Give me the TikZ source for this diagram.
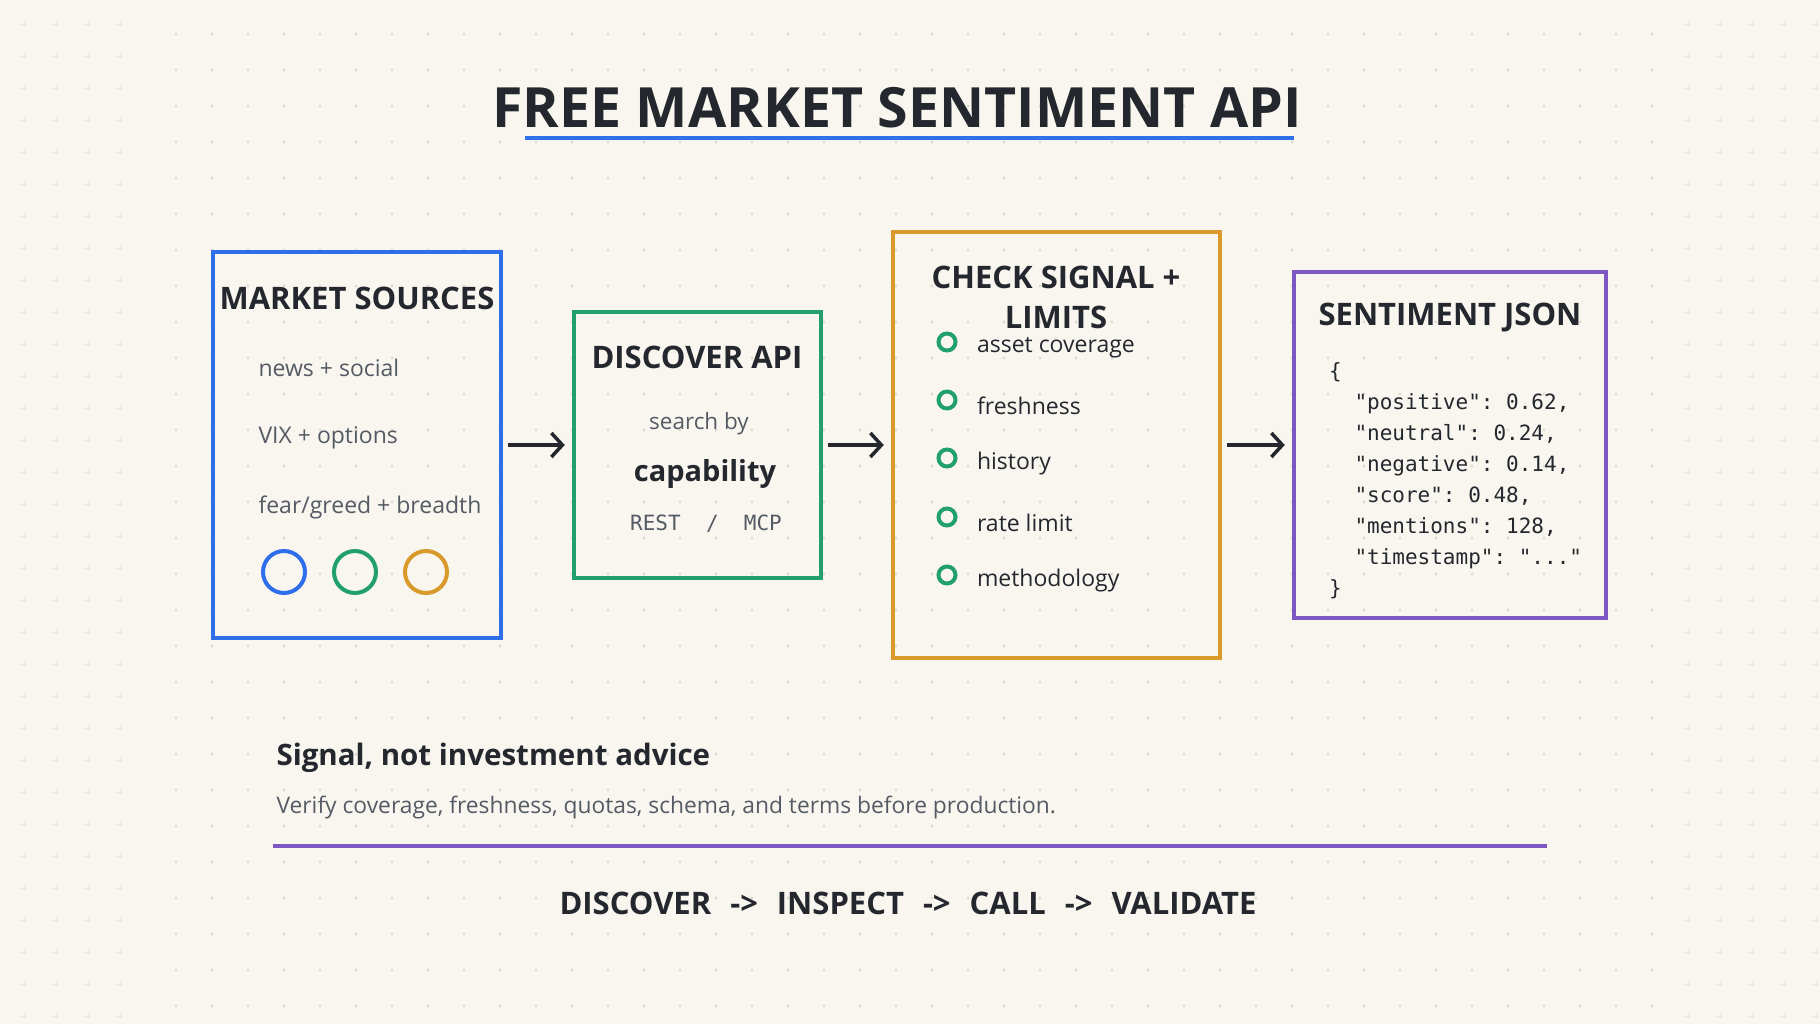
\documentclass[tikz,border=0pt]{standalone}
\usepackage{fontspec}
\IfFontExistsTF{Noto Sans Bold}{\setmainfont{Noto Sans}[BoldFont={Noto Sans Bold}]}{\IfFontExistsTF{Open Sans Bold}{\setmainfont{Open Sans}[BoldFont={Open Sans Bold}]}{\setmainfont{Fira Sans}}}
\setmonofont{DejaVu Sans Mono}
\usetikzlibrary{arrows.meta,positioning}
\definecolor{Paper}{HTML}{F8F6EF}
\definecolor{Ink}{HTML}{24282E}
\definecolor{Slate}{HTML}{555B64}
\definecolor{Blue}{HTML}{2F6FEB}
\definecolor{Green}{HTML}{22A06B}
\definecolor{Orange}{HTML}{D99A2B}
\definecolor{Purple}{HTML}{7E57C2}
\definecolor{Dot}{HTML}{DCD9D1}
\definecolor{Cross}{HTML}{EAE7DF}
\tikzset{panel/.style={draw=#1,line width=4.5pt,inner sep=0pt},head/.style={font=\fontsize{31}{40}\selectfont\bfseries,text=Ink,align=center},item/.style={anchor=west,font=\fontsize{23}{28}\selectfont,text=Slate},code/.style={anchor=north west,font=\fontsize{21}{31}\selectfont\ttfamily,text=Ink,align=left,inner sep=0pt},flow/.style={-{Straight Barb[length=11pt,width=24pt,line width=3.5pt]},line width=3.5pt,draw=Ink,shorten <=5pt,shorten >=7pt},ring/.style={circle,draw=#1,line width=4pt,inner sep=0pt},tick/.style={circle,draw=Green,line width=4pt,minimum size=17pt,inner sep=0pt}}

\begin{document}
\begin{tikzpicture}[x=1pt,y=-1pt]
      \useasboundingbox(0,0)rectangle(1820,1024);
      \fill[Paper](0,0)rectangle(1820,1024);
      % background grid
      \foreach \gx in {176,212,...,1652}{\foreach \gy in {34,70,...,1006}{\fill[Dot](\gx,\gy)circle(1.6pt);}}
      \foreach \gx in {24,56,88,120,1688,1720,1752,1784,1816}{\foreach \gy in {24,56,...,1016}{\draw[Cross,line width=.8pt](\gx-3,\gy)--(\gx+3,\gy)(\gx,\gy-3)--(\gx,\gy+3);}}
      % title
      \node[font=\fontsize{55.5}{60}\selectfont\bfseries,text=Ink](title)at(897,108){FREE MARKET SENTIMENT API};
      \draw[Blue,line width=4pt](525,138)--(1294,138);
      % panels
      \node[panel=Blue,minimum width=288pt,minimum height=386pt](src)at(357,445){};
      \node[panel=Green,minimum width=247pt,minimum height=266pt](disc)at(697.5,445){};
      \node[panel=Orange,minimum width=327pt,minimum height=426pt](check)at(1056.5,445){};
      \node[panel=Purple,minimum width=312pt,minimum height=346pt](json)at(1450,445){};
      \draw[flow](src)--(disc);\draw[flow](disc)--(check);\draw[flow](check)--(json);
      % market sources
      \node[head](srctitle)at(357,298){MARKET SOURCES};
      \node[item](news)at(255,368){news + social};
      \node[item](vix)at(255,438){VIX + options};
      \node[item](fear)at(255,507){fear/greed + breadth};
      \node[ring=Blue,minimum size=42pt](r1)at(284,572){};
      \node[ring=Green,minimum size=42pt,right=25pt of r1](r2){};
      \node[ring=Orange,minimum size=42pt,right=25pt of r2](r3){};
      % discover api
      \node[head](disctitle)at(697,357){DISCOVER API};
      \node[font=\fontsize{22.5}{26}\selectfont,text=Slate](search)at(699,424){search by};
      \node[font=\fontsize{29}{32}\selectfont\bfseries,text=Ink](cap)at(705,474){capability};
      \node[font=\fontsize{21}{24}\selectfont\ttfamily,text=Slate](proto)at(706,524){REST\ \ /\ \ MCP};
      % check signal
      \node[head](checktitle)at(1056,297){CHECK SIGNAL +\\LIMITS};
      \foreach \ty/\tx [count=\i] in {342/asset coverage,400/freshness,458/history,517/rate limit,575/methodology}{
        \node[tick](t\i)at(947,\ty){};
        \node[item,text=Ink,right=16pt of t\i,yshift=-6pt](l\i){\tx};}
      % sentiment json
      \node[head](jsontitle)at(1450,318){SENTIMENT JSON};
      \node[code](body)at(1329,362){\{\\
\ \ "positive": 0.62,\\
\ \ "neutral": 0.24,\\
\ \ "negative": 0.14,\\
\ \ "score": 0.48,\\
\ \ "mentions": 128,\\
\ \ "timestamp": "..."\\
\}};
      % footer
      \node[anchor=west,font=\fontsize{29.5}{32}\selectfont\bfseries,text=Ink](note)at(273,758){Signal, not investment advice};
      \node[anchor=west,font=\fontsize{22.8}{26}\selectfont,text=Slate](verify)at(273,808){Verify coverage, freshness, quotas, schema, and terms before production.};
      \draw[Purple,line width=4pt](273,846)--(1547,846);
      \node[font=\fontsize{31}{34}\selectfont\bfseries,text=Ink](steps)at(908,903){DISCOVER\hspace{19pt}->\hspace{19pt}INSPECT\hspace{19pt}->\hspace{19pt}CALL\hspace{19pt}->\hspace{19pt}VALIDATE};
    \end{tikzpicture}
\end{document}
